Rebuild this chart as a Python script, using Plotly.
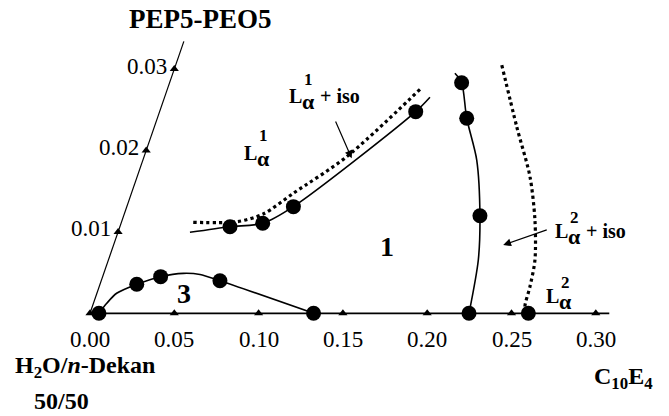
import plotly.graph_objects as go

# ---------------- data (phase-diagram coordinates) ----------------
# x = mass fraction C10E4, y = mass fraction PEP5-PEO5 (slanted axis)
SHEAR = 5 / 3  # horizontal offset of the slanted PEP5-PEO5 axis per unit

x_tick_vals = [0.00, 0.05, 0.10, 0.15, 0.20, 0.25, 0.30]
x_tick_text = ["0.00", "0.05", "0.10", "0.15", "0.20", "0.25", "0.30"]
y_tick_vals = [0.01, 0.02, 0.03]
y_tick_text = ["0.01", "0.02", "0.03"]
x_axis_end = 0.308
y_axis_end = 0.0334

# three-phase region boundary
three_line_x = [0.0053, 0.0079, 0.0117, 0.0218, 0.0344, 0.0472, 0.0573, 0.0704, 0.1326]
three_line_y = [0.0, 0.00123, 0.00246, 0.00356, 0.0045, 0.00491, 0.00477, 0.0040, 0.0]
three_dots_x = [0.0053, 0.0218, 0.0344, 0.0704, 0.1326]
three_dots_y = [0.0, 0.00356, 0.0045, 0.0040, 0.0]

# L_alpha^1 boundary (solid) and L_alpha^1 + iso boundary (dotted)
l1_line_x = [0.0427, 0.0653, 0.0840, 0.0988, 0.1519, 0.1574]
l1_line_y = [0.00995, 0.01064, 0.01106, 0.0131, 0.02477, 0.02654]
l1_dots_x = [0.0653, 0.0840, 0.0988, 0.1519]
l1_dots_y = [0.01064, 0.01106, 0.0131, 0.02477]
l1_dotted_x = [0.0426, 0.0683, 0.0824, 0.0960, 0.1202, 0.1499]
l1_dotted_y = [0.01118, 0.01125, 0.0122, 0.01474, 0.01924, 0.02752]

# L_alpha^2 boundary (solid) and L_alpha^2 + iso boundary (dotted)
l2_line_x = [0.1673, 0.1732, 0.1835, 0.1980, 0.2113, 0.2194, 0.2248]
l2_line_y = [0.02948, 0.02833, 0.02396, 0.01883, 0.01199, 0.00655, 0.0]
l2_dots_x = [0.1732, 0.1835, 0.2113, 0.2248]
l2_dots_y = [0.02833, 0.02396, 0.01199, 0.0]
l2_dotted_x = [0.1934, 0.2149, 0.2330, 0.2448, 0.2530, 0.2555, 0.2566, 0.2590]
l2_dotted_y = [0.0305, 0.02292, 0.01678, 0.01146, 0.00655, 0.00327, 0.00081, 0.0]
l2_edge_x = [0.2600]
l2_edge_y = [0.0]


def sx(xs, ys):
    return [a + SHEAR * b for a, b in zip(xs, ys)]


FONT = "Liberation Serif, Times New Roman, serif"
BLACK = "black"

fig = go.Figure()

# axes (drawn as lines in the sheared coordinate system)
fig.add_trace(go.Scatter(x=sx([0, x_axis_end], [0, 0]), y=[0, 0], mode="lines",
                         line=dict(color=BLACK, width=1.8), hoverinfo="skip"))
fig.add_trace(go.Scatter(x=sx([0, 0], [0, y_axis_end]), y=[0, y_axis_end], mode="lines",
                         line=dict(color=BLACK, width=1.2), hoverinfo="skip"))
# tick triangles
fig.add_trace(go.Scatter(x=sx(x_tick_vals, [0] * len(x_tick_vals)), y=[0] * len(x_tick_vals),
                         mode="markers", marker=dict(symbol="triangle-up", size=8, color=BLACK)))
fig.add_trace(go.Scatter(x=sx([0] * len(y_tick_vals), y_tick_vals), y=y_tick_vals,
                         mode="markers", marker=dict(symbol="triangle-up", size=8, color=BLACK)))

# boundaries
line_style = dict(color=BLACK, width=1.6, shape="spline", smoothing=0.8)
fig.add_trace(go.Scatter(x=sx(three_line_x, three_line_y), y=three_line_y, mode="lines", line=line_style))
fig.add_trace(go.Scatter(x=sx(l1_line_x, l1_line_y), y=l1_line_y, mode="lines", line=line_style))
fig.add_trace(go.Scatter(x=sx(l2_line_x, l2_line_y), y=l2_line_y, mode="lines", line=line_style))
dot_style = dict(color=BLACK, width=3.2, dash="dot", shape="spline", smoothing=0.8)
fig.add_trace(go.Scatter(x=sx(l1_dotted_x, l1_dotted_y), y=l1_dotted_y, mode="lines", line=dot_style))
fig.add_trace(go.Scatter(x=sx(l2_dotted_x, l2_dotted_y), y=l2_dotted_y, mode="lines", line=dot_style))

# measured points
for xs, ys in [(three_dots_x, three_dots_y), (l1_dots_x, l1_dots_y),
               (l2_dots_x, l2_dots_y), (l2_edge_x, l2_edge_y)]:
    fig.add_trace(go.Scatter(x=sx(xs, ys), y=ys, mode="markers",
                             marker=dict(symbol="circle", size=15, color=BLACK)))

ann = []
# x tick labels
for v, t in zip(x_tick_vals, x_tick_text):
    ann.append(dict(x=v, y=0, text=t, showarrow=False, yanchor="middle", xanchor="center",
                    yshift=-26, font=dict(family=FONT, size=23, color=BLACK)))
# y tick labels (slanted axis)
for v, t in zip(y_tick_vals, y_tick_text):
    ann.append(dict(x=SHEAR * v, y=v, text=t, showarrow=False, yanchor="middle", xanchor="right",
                    xshift=-5, yshift=3, font=dict(family=FONT, size=23, color=BLACK)))

# axis titles
ann.append(dict(x=0.0658, y=0.03615, text="<b>PEP5-PEO5</b>", showarrow=False,
                xanchor="center", yanchor="middle", font=dict(family=FONT, size=27, color=BLACK)))
ann.append(dict(x=-0.0457, y=-0.0066, text="<b>H<sub>2</sub>O/<i>n</i>-Dekan</b>", showarrow=False,
                xanchor="left", yanchor="middle", font=dict(family=FONT, size=24, color=BLACK)))
ann.append(dict(x=-0.0344, y=-0.01075, text="<b>50/50</b>", showarrow=False,
                xanchor="left", yanchor="middle", font=dict(family=FONT, size=24, color=BLACK)))
ann.append(dict(x=0.3351, y=-0.00795, text="<b>C<sub>10</sub>E<sub>4</sub></b>", showarrow=False,
                xanchor="right", yanchor="middle", font=dict(family=FONT, size=24, color=BLACK)))


# region labels L_alpha^n (+ iso), built from pieces so the index stacks over alpha
def phase_label(x, y, idx, suffix, sup_up):
    base = dict(x=x, y=y, showarrow=False, xanchor="left", yanchor="middle")
    out = [dict(base, text="<b>L</b>", font=dict(family=FONT, size=20, color=BLACK)),
           dict(base, text="<b>α</b>", xshift=13, yshift=-6,
                font=dict(family=FONT, size=22, color=BLACK)),
           dict(base, text="<b>%s</b>" % idx, xshift=15, yshift=sup_up,
                font=dict(family=FONT, size=17, color=BLACK))]
    if suffix:
        out.append(dict(base, text="<b>%s</b>" % suffix, xshift=31,
                        font=dict(family=FONT, size=20, color=BLACK)))
    return out


ann += phase_label(0.1168, 0.02675, "1", "+ iso", 16)
ann += phase_label(0.0900, 0.01975, "1", "", 17)
ann += phase_label(0.2745, 0.01012, "2", "+ iso", 13)
ann += phase_label(0.2693, 0.00213, "2", "", 13)

ann.append(dict(x=0.1762, y=0.00815, text="<b>1</b>", showarrow=False,
                font=dict(family=FONT, size=28, color=BLACK)))
ann.append(dict(x=0.0558, y=0.00249, text="<b>3</b>", showarrow=False,
                font=dict(family=FONT, size=28, color=BLACK)))

# arrows
for (hx, hy), (tx, ty) in [((0.1235, 0.01904), (0.1057, 0.02375)),
                           ((0.2311, 0.00839), (0.2546, 0.01032))]:
    ann.append(dict(x=hx + SHEAR * hy, y=hy, ax=tx + SHEAR * ty, ay=ty, axref="x", ayref="y",
                    xref="x", yref="y", text="", showarrow=True, arrowhead=2, arrowsize=1.3,
                    arrowwidth=1.2, arrowcolor=BLACK, standoff=0))

fig.update_layout(
    width=669, height=416, margin=dict(l=0, r=0, t=0, b=0),
    paper_bgcolor="white", plot_bgcolor="white", showlegend=False,
    xaxis=dict(range=[-90 / 1686, (669 - 90) / 1686], visible=False, fixedrange=True),
    yaxis=dict(range=[(313.3 - 416) / 8140, 313.3 / 8140], visible=False, fixedrange=True),
    annotations=ann,
)
fig.write_html("out.html")
